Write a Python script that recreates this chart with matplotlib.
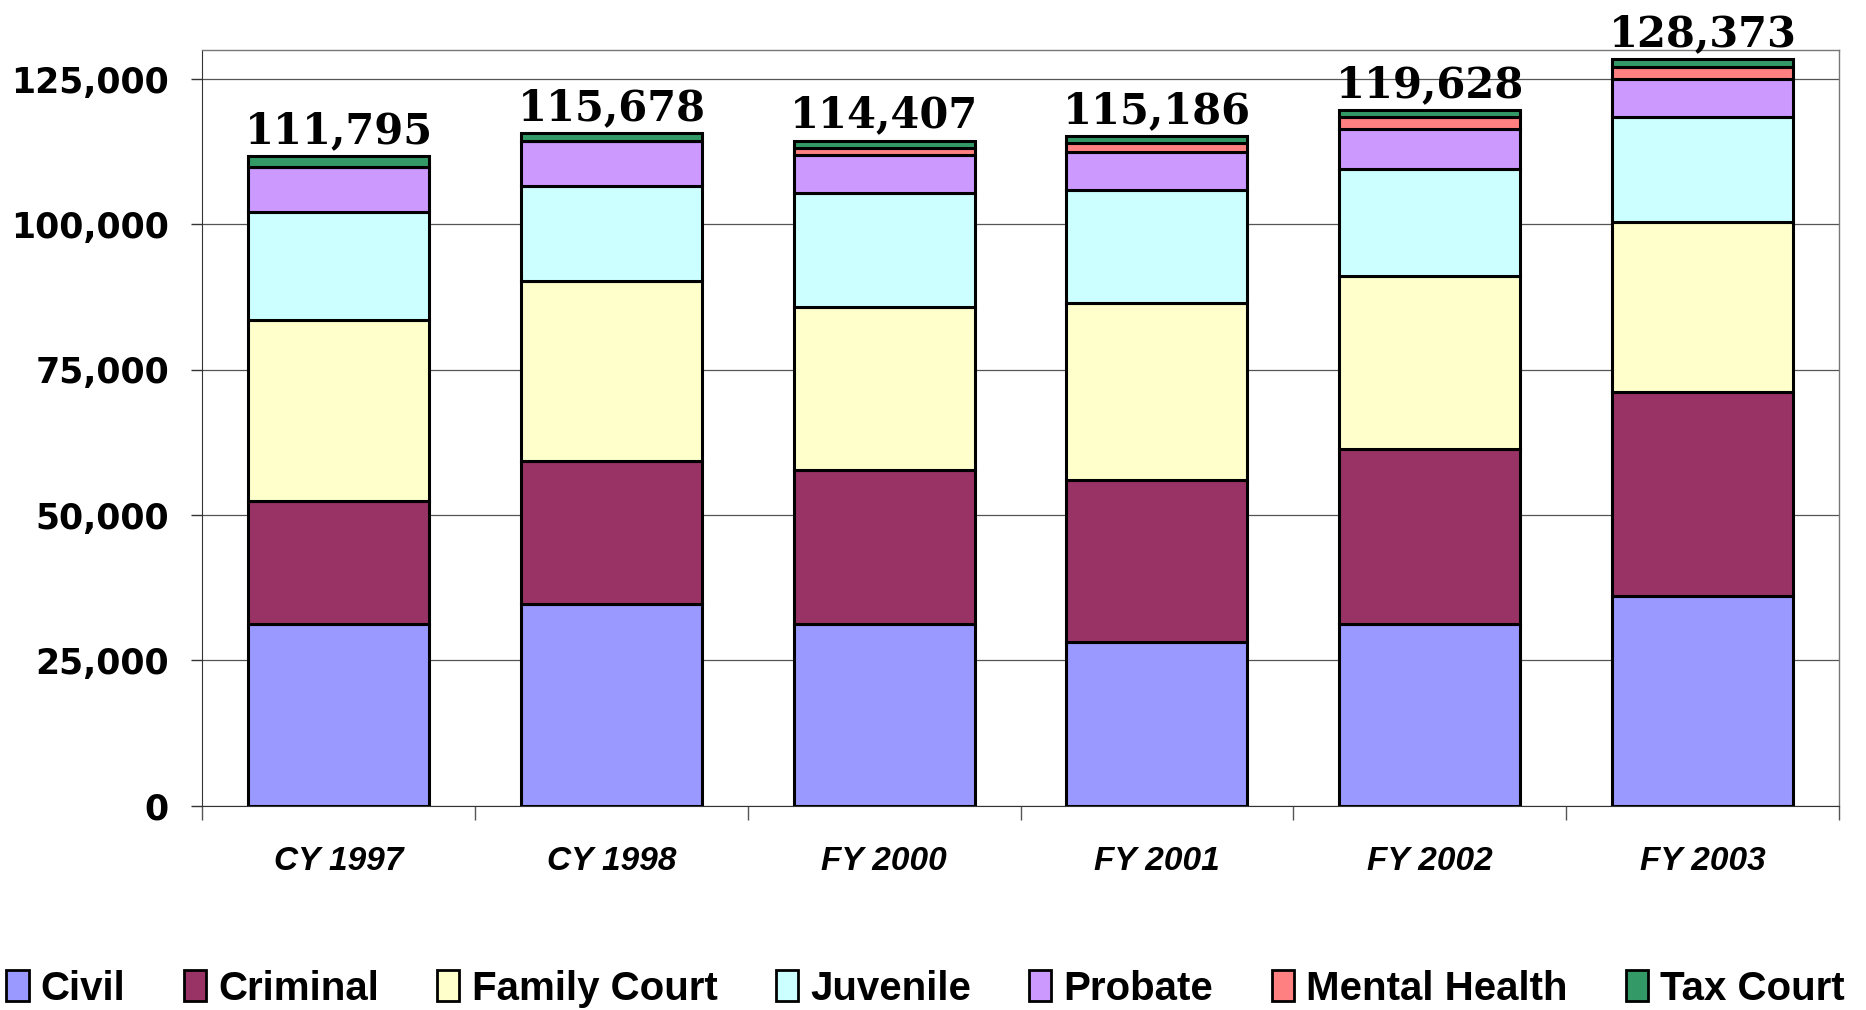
"""Stacked bar chart of court filings by case type, CY 1997 - FY 2003."""
import matplotlib

matplotlib.use("Agg")
import matplotlib.pyplot as plt
import numpy as np
from matplotlib.patches import Patch

years = ["CY 1997", "CY 1998", "FY 2000", "FY 2001", "FY 2002", "FY 2003"]
civil = [31300, 34780, 31300, 28230, 31300, 36010]
criminal = [21070, 24550, 26390, 27830, 30070, 35180]
family_court = [31100, 30890, 28030, 30480, 29670, 29260]
juvenile = [18620, 16370, 19640, 19350, 18460, 18000]
probate = [7770, 7770, 6610, 6490, 6950, 6590]
mental_health = [0, 0, 1150, 1650, 1940, 2010]
tax_court = [1935, 1318, 1287, 1156, 1238, 1323]
totals = [111795, 115678, 114407, 115186, 119628, 128373]

series = [
    ("Civil", civil, "#9999ff"),
    ("Criminal", criminal, "#993366"),
    ("Family Court", family_court, "#ffffcc"),
    ("Juvenile", juvenile, "#ccffff"),
    ("Probate", probate, "#cc99ff"),
    ("Mental Health", mental_health, "#ff8080"),
    ("Tax Court", tax_court, "#339966"),
]

fig = plt.figure(figsize=(18.66, 10.1), dpi=100)
ax = fig.add_axes([0.1084, 0.2023, 0.877, 0.7482])

x = np.arange(len(years))
bottom = np.zeros(len(years))
for name, values, color in series:
    vals = np.array(values, dtype=float)
    ax.bar(x, vals, 0.663, bottom=bottom, color=color, edgecolor="black",
           linewidth=2.2, zorder=3)
    bottom += vals

for xi, top, total in zip(x, bottom, totals):
    ax.text(xi, top + 700, f"{total:,}", ha="center", va="bottom",
            fontsize=30, fontweight="bold", family="DejaVu Serif",
            clip_on=False, zorder=5)

ax.set_xlim(-0.5, len(years) - 0.5)
ax.set_ylim(0, 130000)
ax.set_yticks(np.arange(0, 125001, 25000))
ax.set_yticklabels([f"{v:,}" for v in range(0, 125001, 25000)],
                   fontsize=25, fontweight="bold", family="DejaVu Sans")
ax.tick_params(axis="y", length=8, width=1, pad=16, color="#333333")
ax.yaxis.grid(True, color="#555555", linewidth=0.9, zorder=0)

ax.set_xticks(x)
ax.set_xticklabels(years, fontsize=24, fontweight="bold", style="italic",
                   family="Liberation Sans")
ax.tick_params(axis="x", which="major", length=0, pad=29)
ax.set_xticks(np.arange(-0.5, len(years)), minor=True)
ax.tick_params(axis="x", which="minor", length=10, width=1, color="#555555")

for side in ("top", "right"):
    ax.spines[side].set_color("#777777")
    ax.spines[side].set_linewidth(1)
ax.spines["left"].set_color("#333333")
ax.spines["bottom"].set_color("#333333")

handles = [Patch(facecolor=c, edgecolor="black", linewidth=2) for _, _, c in series]
fig.legend(handles, [s[0] for s in series], loc="center",
           bbox_to_anchor=(0.496, 0.021), ncol=7, frameon=False,
           prop={"family": "Liberation Sans", "weight": "bold", "size": 29},
           handlelength=0.55, handleheight=0.8, handletextpad=0.3,
           columnspacing=1.45, borderpad=0)

fig.savefig("out.png", dpi=100)
